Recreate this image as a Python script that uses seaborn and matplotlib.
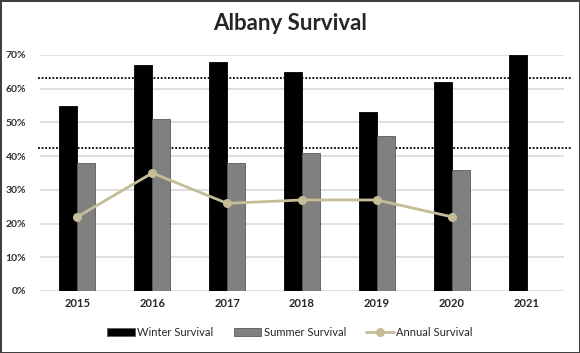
import pandas as pd
import seaborn as sns
import matplotlib.pyplot as plt
from matplotlib.ticker import PercentFormatter

years = ["2015", "2016", "2017", "2018", "2019", "2020", "2021"]
winter = [0.55, 0.67, 0.68, 0.65, 0.53, 0.62, 0.70]
summer = [0.38, 0.51, 0.38, 0.41, 0.46, 0.36, None]
annual = [0.22, 0.35, 0.26, 0.27, 0.27, 0.22]
winter_ref = 0.633   # upper dotted line
summer_ref = 0.424   # lower dotted line

df = pd.DataFrame({
    "year": years * 2,
    "season": ["Winter Survival"] * 7 + ["Summer Survival"] * 7,
    "value": winter + summer,
})

sns.set_style("white")
plt.rcParams["font.family"] = ["Lato", "DejaVu Sans"]

fig = plt.figure(figsize=(5.8, 3.53), dpi=100, edgecolor="#404040", linewidth=2)
ax = fig.add_axes([40 / 580, 62 / 353, 524 / 580, 236 / 353])

# dotted reference lines, behind the bars, running past the plot edges
for ref in (winter_ref, summer_ref):
    ax.plot([-0.004, 1.015], [ref, ref], transform=ax.get_yaxis_transform(),
            color="black", ls=(0, (1, 1)), lw=1.3, clip_on=False, zorder=1)

sns.barplot(data=df, x="year", y="value", hue="season", order=years,
            palette=["black", "#808080"], width=0.48, ax=ax, zorder=2,
            edgecolor="#5a5a5a", linewidth=0.6, errorbar=None)
for bar in ax.patches[:7]:
    bar.set_edgecolor("black")

ax.plot(range(len(annual)), annual, color="#c4bd97", lw=2, marker="o",
        markersize=5.5, label="Annual Survival", zorder=3)

ax.set_ylim(0, 0.70)
ax.set_xlim(-0.5, 6.5)
ax.set_yticks([i / 10 for i in range(8)])
ax.yaxis.set_major_formatter(PercentFormatter(1.0, decimals=0))
ax.grid(axis="y", color="#d9d9d9", lw=1.2, zorder=0)
ax.set_axisbelow(True)
for s in ax.spines.values():
    s.set_visible(False)
ax.tick_params(length=0, pad=5)
ax.tick_params(axis="y", pad=10)
for lab in ax.get_xticklabels():
    lab.set_fontsize(8)
    lab.set_fontweight("bold")
for lab in ax.get_yticklabels():
    lab.set_fontsize(7.5)
    lab.set_fontweight("bold")
    lab.set_color("#303030")
ax.set_xlabel("")
ax.set_ylabel("")

fig.suptitle("Albany Survival", x=0.5, y=1 - 23 / 353, va="center",
             fontsize=16, fontweight="bold")

handles, labels = ax.get_legend_handles_labels()
ax.legend(handles, labels, loc="center",
          bbox_to_anchor=((290 - 40) / 524, (353 - 332 - 62) / 236),
          ncol=3, frameon=False, fontsize=8, handlelength=2.5, handleheight=0.7,
          handletextpad=0.2, columnspacing=1.8)

fig.savefig("out.png", dpi=100)
